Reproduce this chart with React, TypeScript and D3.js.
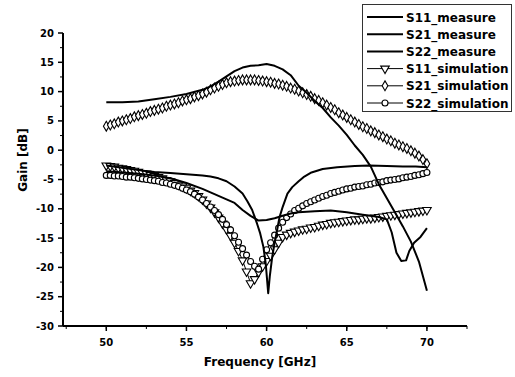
import * as d3 from 'd3';

// simulated curves share one frequency grid (0.25 GHz step)
const simFreq = d3.range(50, 70.001, 0.25);

const s21Sim = [
  4.1, 4.3, 4.5, 4.8, 5.0, 5.2, 5.4, 5.7, 5.9, 6.1, 6.3, 6.6, 6.8, 7.0, 7.2, 7.5,
  7.7, 7.9, 8.1, 8.4, 8.6, 8.8, 9.1, 9.3, 9.6, 9.9, 10.3, 10.6, 10.9, 11.2, 11.5, 11.7,
  11.8, 11.9, 12.0, 12.0, 12.0, 12.0, 11.9, 11.8, 11.7, 11.6, 11.4, 11.3, 11.1, 10.9, 10.6, 10.4,
  10.1, 9.8, 9.5, 9.2, 8.8, 8.5, 8.1, 7.7, 7.3, 6.9, 6.4, 6.0, 5.6, 5.2, 4.8, 4.4,
  4.0, 3.7, 3.3, 3.0, 2.6, 2.3, 1.9, 1.6, 1.2, 0.9, 0.6, 0.3, -0.1, -0.5, -1.0, -1.6,
  -2.3,
];

const s11Sim = [
  -2.6, -2.7, -2.8, -3.0, -3.1, -3.2, -3.4, -3.5, -3.7, -3.9, -4.0, -4.2, -4.4, -4.6, -4.8, -5.1,
  -5.3, -5.6, -5.9, -6.2, -6.5, -6.9, -7.3, -7.8, -8.4, -9.1, -9.8, -10.6, -11.5, -12.5, -13.5, -14.6,
  -15.8, -17.2, -18.8, -20.7, -22.7, -22.0, -20.8, -19.8, -18.9, -18.0, -16.9, -15.8, -14.8, -14.4, -14.1, -13.9,
  -13.7, -13.5, -13.4, -13.2, -13.1, -12.9, -12.7, -12.6, -12.4, -12.3, -12.2, -12.1, -12.0, -11.9, -11.8, -11.8,
  -11.7, -11.6, -11.6, -11.5, -11.4, -11.3, -11.2, -11.1, -11.0, -10.9, -10.8, -10.7, -10.6, -10.5, -10.4, -10.3,
  -10.2,
];

const s22Sim = [
  -4.3, -4.3, -4.4, -4.4, -4.5, -4.6, -4.6, -4.7, -4.8, -4.9, -5.0, -5.1, -5.2, -5.3, -5.5, -5.6,
  -5.8, -6.0, -6.2, -6.5, -6.8, -7.1, -7.5, -8.0, -8.5, -9.1, -9.7, -10.3, -11.0, -11.8, -12.7, -13.6,
  -14.6, -15.7, -16.8, -17.9, -19.0, -19.8, -20.3, -18.6, -17.0, -15.8, -14.5, -13.3, -12.3, -11.5, -10.9, -10.3,
  -9.9, -9.5, -9.1, -8.8, -8.5, -8.2, -7.9, -7.7, -7.4, -7.2, -7.0, -6.8, -6.6, -6.5, -6.3, -6.2,
  -6.1, -5.9, -5.8, -5.6, -5.5, -5.4, -5.2, -5.1, -5.0, -4.9, -4.7, -4.6, -4.5, -4.3, -4.2, -4.0,
  -3.8,
];

// measured curves: [GHz, dB]
const s11Meas: [number, number][] = [
  [50, -2.6], [51, -3.0], [52, -3.4], [53, -3.7], [54, -3.9], [55, -4.1], [56, -4.3], [56.5, -4.5],
  [57, -4.8], [57.5, -5.3], [58, -6.2], [58.5, -7.4], [58.8, -8.7], [59.1, -10.2], [59.4, -12.5],
  [59.6, -14.2], [59.8, -16.5], [59.95, -19.5], [60.1, -24.4], [60.2, -21.5], [60.35, -18.2],
  [60.5, -15.8], [60.65, -13.7], [60.8, -11.5], [61, -9.7], [61.3, -7.4], [61.6, -6.3], [62, -5.3],
  [62.3, -4.6], [62.8, -3.8], [63.5, -3.2], [64.4, -2.9], [65.5, -2.7], [66.4, -2.6], [67.5, -2.7],
  [68.5, -2.8], [69.3, -2.8], [70, -2.9],
];

const s21Meas: [number, number][] = [
  [50, 8.2], [51, 8.2], [52, 8.3], [53, 8.7], [54, 9.1], [55, 9.6], [56, 10.3], [56.5, 10.9],
  [57, 11.7], [57.5, 12.6], [58, 13.5], [58.5, 14.1], [59, 14.4], [59.5, 14.5], [60, 14.7],
  [60.5, 14.4], [61, 13.8], [61.5, 12.8], [62, 11.0], [62.5, 9.8], [63, 8.4], [63.5, 7.2],
  [64, 5.6], [64.5, 4.2], [65, 2.6], [65.5, 0.8], [66, -0.8], [66.5, -2.8], [67, -5.8],
  [67.5, -8.2], [68, -10.6], [68.5, -13], [69, -15.6], [69.5, -19], [70, -24],
];

const s22Meas: [number, number][] = [
  [50, -3.6], [51, -3.8], [52, -4.0], [53, -4.3], [54, -4.8], [55, -5.6], [56, -6.6], [56.5, -7.2],
  [57, -7.8], [57.5, -8.4], [58, -9.0], [58.5, -10.2], [59, -11.2], [59.5, -12.0], [60, -11.9],
  [60.5, -11.6], [61, -11.2], [61.5, -10.8], [62, -10.6], [63, -10.4], [64, -10.3], [65, -10.6],
  [66, -11.0], [66.5, -11.2], [67, -11.4], [67.5, -11.8], [67.8, -14.0], [68.1, -17.5],
  [68.4, -18.9], [68.7, -18.8], [68.9, -17.2], [69.2, -15.8], [69.6, -14.8], [70, -13.3],
];

const xTicks = [50, 55, 60, 65, 70];
const yTicks = [20, 15, 10, 5, 0, -5, -10, -15, -20, -25, -30];

const legendLabels = [
  'S11_measure',
  'S21_measure',
  'S22_measure',
  'S11_simulation',
  'S21_simulation',
  'S22_simulation',
];

const FONT = "'DejaVu Sans', sans-serif";

const x = d3.scaleLinear().domain([47.3, 72.5]).range([63, 467]);
const y = d3.scaleLinear().domain([-30, 20]).range([326, 33]);

const measLine = d3
  .line<[number, number]>()
  .x((d) => x(d[0]))
  .y((d) => y(d[1]));

const triDown = d3.symbol(d3.symbolTriangle, 32)()!;
const diamond = d3.symbol(d3.symbolDiamond, 28)()!;

function Marker({ kind, cx, cy }: { kind: string; cx: number; cy: number }) {
  if (kind === 'circle') {
    return <circle cx={cx} cy={cy} r={3} fill="#fff" stroke="#000" strokeWidth={1.1} />;
  }
  const d = kind === 'tri' ? triDown : diamond;
  const rot = kind === 'tri' ? ' rotate(180)' : '';
  return (
    <path
      d={d}
      transform={`translate(${cx},${cy})${rot}`}
      fill="#fff"
      stroke="#000"
      strokeWidth={1.1}
    />
  );
}

const simSeries = [
  { values: s11Sim, kind: 'tri' },
  { values: s21Sim, kind: 'diamond' },
  { values: s22Sim, kind: 'circle' },
];

export default function App() {
  const xMinor = d3.range(47.5, 72.6, 2.5);
  const yMinor = d3.range(-27.5, 20, 5);

  return (
    <svg
      width={515}
      height={377}
      style={{ position: 'absolute', left: 0, top: 0, background: '#fff' }}
      fontFamily={FONT}
    >
      <rect width={515} height={377} fill="#fff" />

      {/* simulation curves */}
      {simSeries.map((s, i) => {
        const pts = s.values.map((v, j) => [simFreq[j], v] as [number, number]);
        return (
          <g key={i}>
            <path d={measLine(pts) ?? ''} fill="none" stroke="#000" strokeWidth={1} />
            {pts.map((p, j) => (
              <Marker key={j} kind={s.kind} cx={x(p[0])} cy={y(p[1])} />
            ))}
          </g>
        );
      })}

      {/* measured curves */}
      {[s11Meas, s21Meas, s22Meas].map((m, i) => (
        <path key={i} d={measLine(m) ?? ''} fill="none" stroke="#000" strokeWidth={2} strokeLinejoin="round" />
      ))}

      {/* axes */}
      <line x1={63} x2={63} y1={y(20)} y2={y(-30)} stroke="#000" strokeWidth={2} />
      <line x1={63} x2={467} y1={326} y2={326} stroke="#000" strokeWidth={2} />
      {yTicks.map((t) => (
        <g key={t}>
          <line x1={58} x2={63} y1={y(t)} y2={y(t)} stroke="#000" strokeWidth={1.5} />
          <text x={54} y={y(t) + 3.5} textAnchor="end" fontSize={10} fontWeight="bold">
            {t}
          </text>
        </g>
      ))}
      {yMinor.map((t) => (
        <line key={t} x1={60} x2={63} y1={y(t)} y2={y(t)} stroke="#000" strokeWidth={1} />
      ))}
      {xTicks.map((t) => (
        <g key={t}>
          <line x1={x(t)} x2={x(t)} y1={326} y2={331} stroke="#000" strokeWidth={1.5} />
          <text x={x(t)} y={346} textAnchor="middle" fontSize={10} fontWeight="bold">
            {t}
          </text>
        </g>
      ))}
      {xMinor.map((t) => (
        <line key={t} x1={x(t)} x2={x(t)} y1={326} y2={329} stroke="#000" strokeWidth={1} />
      ))}

      <text x={260} y={366} textAnchor="middle" fontSize={12} fontWeight="bold">
        Frequency [GHz]
      </text>
      <text
        transform="translate(27,160) rotate(-90)"
        textAnchor="middle"
        fontSize={12}
        fontWeight="bold"
      >
        Gain [dB]
      </text>

      {/* legend */}
      <rect x={362.5} y={4.5} width={149} height={107} fill="#fff" stroke="#333" strokeWidth={1} />
      {legendLabels.map((label, i) => {
        const ry = 17 + i * 17.2;
        const sim = i >= 3 ? simSeries[i - 3] : null;
        return (
          <g key={label}>
            <line
              x1={367}
              x2={403}
              y1={ry}
              y2={ry}
              stroke="#000"
              strokeWidth={sim ? 1 : 2}
            />
            {sim && <Marker kind={sim.kind} cx={385} cy={ry} />}
            <text x={406} y={ry + 4.5} fontSize={12} fontWeight="bold">
              {label}
            </text>
          </g>
        );
      })}
    </svg>
  );
}
